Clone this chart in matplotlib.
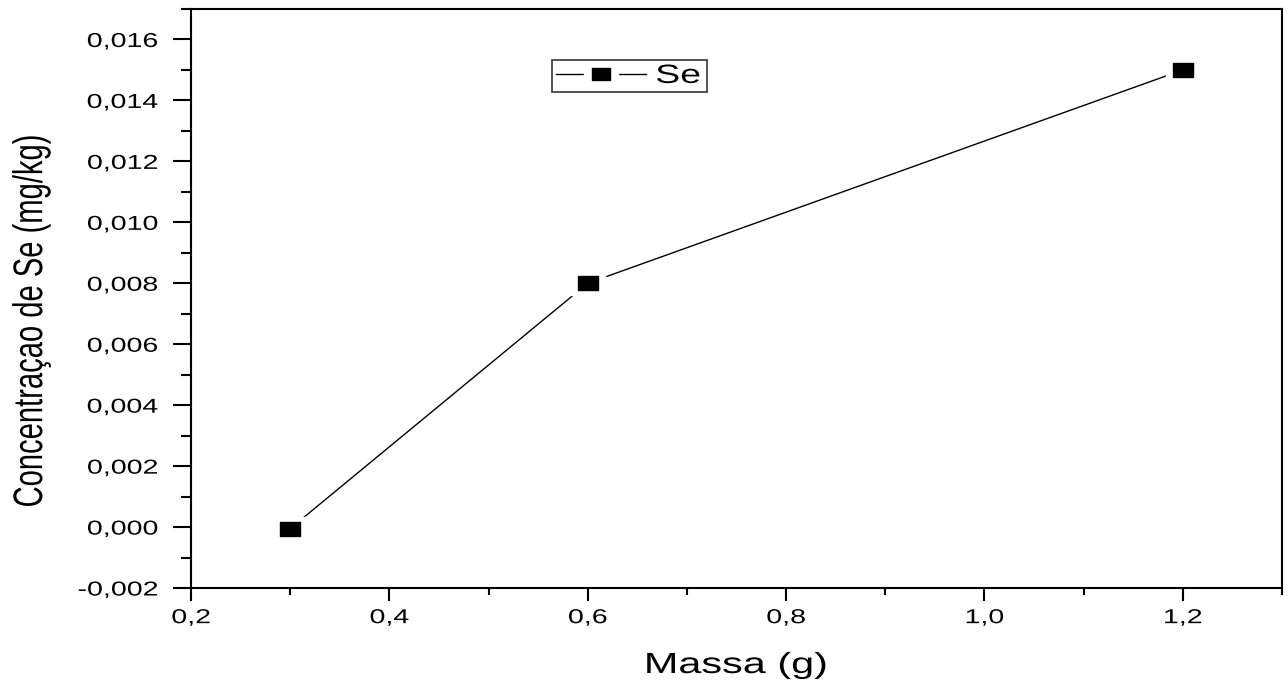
import matplotlib
matplotlib.use('Agg')
import matplotlib.pyplot as plt
from matplotlib.ticker import MultipleLocator, FuncFormatter
from matplotlib.patheffects import AbstractPathEffect
from matplotlib.transforms import Affine2D
from matplotlib.path import Path

massa = [0.3, 0.6, 1.2]
conc_se = [-0.00005, 0.0080, 0.0150]

plt.rcParams['font.family'] = ['Liberation Sans', 'DejaVu Sans']

SX = 1.42  # the reference is stretched sideways


class Stretch(AbstractPathEffect):
    # widen text horizontally around its center / left / right edge
    def __init__(self, sx=SX, anchor='center'):
        super().__init__()
        self.sx = sx
        self.anchor = anchor

    def draw_path(self, renderer, gc, tpath, affine, rgbFace=None):
        ext = affine.transform_path(tpath).get_extents()
        if self.anchor == 'right':
            cx = ext.x1
        elif self.anchor == 'left':
            cx = ext.x0
        else:
            cx = (ext.x0 + ext.x1) / 2
        tr = affine + Affine2D().translate(-cx, 0).scale(self.sx, 1).translate(cx, 0)
        renderer.draw_path(gc, tpath, tr, rgbFace)


# wide square marker, as in the stretched picture
box = Path([(-0.7, -0.5), (0.7, -0.5), (0.7, 0.5), (-0.7, 0.5), (-0.7, -0.5)],
           [Path.MOVETO, Path.LINETO, Path.LINETO, Path.LINETO, Path.CLOSEPOLY])

fig = plt.figure(figsize=(12.88, 6.82), dpi=100)
ax = fig.add_axes([0.1483, 0.1378, 0.847, 0.849])

ax.plot(massa, conc_se, color='black', lw=1, zorder=2)
# white halo -> small gap between line and symbol (Origin style)
ax.plot(massa, conc_se, ls='none', marker=box, ms=24, mfc='white', mec='white', zorder=2.1)
ax.plot(massa, conc_se, ls='none', marker=box, ms=14.5, mfc='black', mec='black', zorder=2.2)

ax.set_xlim(0.2, 1.3)
ax.set_ylim(-0.002, 0.017)
ax.xaxis.set_major_locator(MultipleLocator(0.2))
ax.xaxis.set_minor_locator(MultipleLocator(0.1))
ax.yaxis.set_major_locator(MultipleLocator(0.002))
ax.yaxis.set_minor_locator(MultipleLocator(0.001))
ax.xaxis.set_major_formatter(FuncFormatter(lambda v, p: f'{v:.1f}'.replace('.', ',')))
ax.yaxis.set_major_formatter(FuncFormatter(lambda v, p: f'{v:.3f}'.replace('.', ',')))

ax.tick_params(axis='x', which='major', direction='out', length=9.5, width=1.5, labelsize=14.5, pad=5)
ax.tick_params(axis='x', which='minor', direction='out', length=5, width=1.5)
ax.tick_params(axis='y', which='major', direction='out', length=13, width=1.5, labelsize=14.5, pad=11)
ax.tick_params(axis='y', which='minor', direction='out', length=7, width=1.5)
for s in ax.spines.values():
    s.set_linewidth(1.5)

for t in ax.get_xticklabels():
    t.set_path_effects([Stretch()])
for t in ax.get_yticklabels():
    t.set_path_effects([Stretch(anchor='right')])

fig.text(736 / 1288, 1 - 673 / 682, 'Massa (g)', fontsize=21, ha='center', va='baseline',
         path_effects=[Stretch()])
fig.text(31 / 1288, 1 - 321 / 682, 'Concentraçao de Se (mg/kg)', fontsize=21,
         rotation=90, ha='center', va='center', path_effects=[Stretch()])

# legend handle: line with a gap around the symbol
h_line, = ax.plot([], [], color='black', lw=1)
h_halo, = ax.plot([], [], ls='none', marker=box, ms=24, mfc='white', mec='white')
h_mark, = ax.plot([], [], ls='none', marker=box, ms=13, mfc='black', mec='black')
leg = ax.legend([(h_line, h_halo, h_mark)], ['Se  '], loc='upper left',
                bbox_to_anchor=(0.3309, 0.912),
                fontsize=19, frameon=True, fancybox=False, edgecolor='black',
                handlelength=3.4, handletextpad=0.38, borderpad=0.15, borderaxespad=0)
leg.get_frame().set_linewidth(1.2)
for t in leg.get_texts():
    t.set_path_effects([Stretch(anchor='left')])

fig.savefig('out.png', dpi=100)
